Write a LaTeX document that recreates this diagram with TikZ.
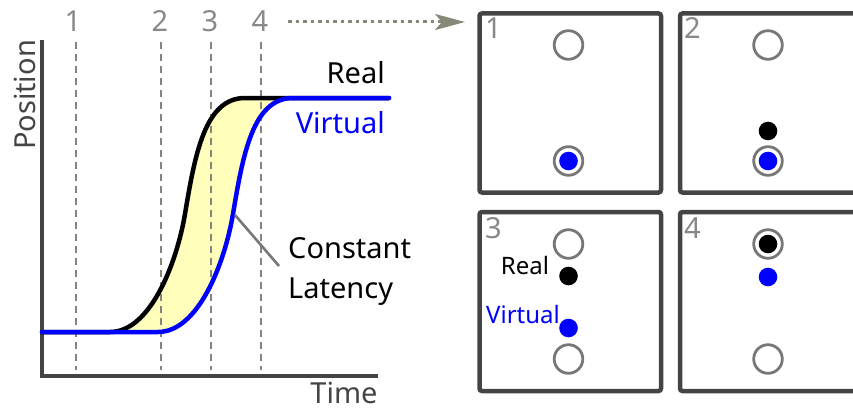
\documentclass[tikz,border=0pt]{standalone}
\usepackage{fontspec}
\setmainfont{Noto Sans}
\usetikzlibrary{arrows.meta,calc}
\definecolor{axisgray}{HTML}{444444}
\definecolor{markgray}{HTML}{888888}
\definecolor{guidegray}{HTML}{85857B}
\definecolor{ringgray}{HTML}{777777}
\definecolor{arrowgray}{HTML}{888878}
\definecolor{latfill}{HTML}{FFFFBB}
\definecolor{virtblue}{HTML}{0000FF}
\begin{document}
\begin{tikzpicture}[x=1pt,y=-1pt,
  bigtext/.style={font=\fontsize{29}{29}\selectfont, inner sep=0pt},
  smalltext/.style={font=\fontsize{24}{24}\selectfont, inner sep=0pt},
  guide/.style={guidegray, line width=2.8pt, dash pattern=on 7pt off 5pt},
  axis/.style={axisgray, line width=4.5pt},
  curve/.style={line width=4.5pt, line cap=round},
  panel/.style={draw=axisgray, line width=4.5pt, rounded corners=2.5pt,
    minimum width=181.5pt, minimum height=179pt, inner sep=0pt},
  ring/.style={circle, draw=ringgray, line width=2.8pt, minimum size=28.6pt, inner sep=0pt},
  dot/.style={circle, minimum size=18.6pt, inner sep=0pt},
  tick/.style={bigtext, markgray, anchor=base},
  panelnum/.style={bigtext, markgray, anchor=base west},
]
\useasboundingbox (0,0) rectangle (853,412);
\clip (0,0) rectangle (853,412);

% ---------- time/position plot ----------
% area between the two curves
\fill[latfill] (110,332) .. controls (150,332) and (176.5,264) .. (185,214)
  .. controls (195,154) and (205,98) .. (245,98) -- (293,98)
  .. controls (253,98) and (243,154) .. (233,214)
  .. controls (224.5,264) and (198,332) .. (158,332) -- cycle;

% moment markers
\node[tick] (t1) at (73,32) {1};
\node[tick] (t2) at (160,32) {2};
\node[tick] (t3) at (210,32) {3};
\node[tick] (t4) at (260,32) {4};
\coordinate (b1) at (76,370);
\coordinate (b2) at (161,370);
\coordinate (b3) at (211,370);
\coordinate (b4) at (261,370);
\foreach \i in {1,...,4}
  \draw[guide] (b\i |- 0,42) -- (b\i);

% axes
\coordinate (ytop) at (42,40);
\coordinate (origin) at (42,376);
\coordinate (xend) at (378,376);
\draw[axis] (ytop) -- (origin) -- (xend);
\node[bigtext, axisgray, rotate=90, anchor=base] (ylab) at (35,95) {Position};
\node[bigtext, axisgray, anchor=base] (xlab) at (344,403) {Time};

% real and virtual trajectories
\draw[curve, black] (42,332) -- (110,332) .. controls (150,332) and (176.5,264) .. (185,214)
  .. controls (195,154) and (205,98) .. (245,98) -- (389,98);
\draw[curve, virtblue] (42,332) -- (158,332) .. controls (198,332) and (224.5,264) .. (233,214)
  .. controls (243,154) and (253,98) .. (293,98) -- (389,98);

\node[bigtext, black, anchor=base east] (real) at (385,83) {Real};
\node[bigtext, virtblue, anchor=base east] (virtual) at (385,133) {Virtual};

% latency callout
\coordinate (latpt) at (235,215);
\coordinate (latend) at (279,266);
\draw[ringgray, line width=2.6pt] (latpt) -- (latend);
\node[bigtext, black, anchor=base west] (constant) at (288,258) {Constant};
\node[bigtext, black, anchor=base west] (latency) at (288,298) {Latency};

% ---------- snapshot panels ----------
\node[panel] (panel1) at (570.25,103) {};
\node[panel] (panel2) at (770.75,103) {};
\node[panel] (panel3) at (570.25,301.5) {};
\node[panel] (panel4) at (770.75,301.5) {};

% link from the markers to the panels
\coordinate (linkstart) at (288,22);
\coordinate (linkend) at (465,22);
\draw[arrowgray, line width=3pt, dash pattern=on 3.5pt off 4pt,
  -{Stealth[length=30pt, width=16pt, inset=7pt]}] (linkstart) -- (linkend);

\node[panelnum] (n1) at (485,38) {1};
\node[panelnum] (n2) at (684,38) {2};
\node[panelnum] (n3) at (485,238) {3};
\node[panelnum] (n4) at (684,238) {4};

% panel 1: both at rest on the lower target
\node[ring] (r1a) at (568.5,45) {};
\node[ring] (r1b) at (568.5,161) {};
\node[dot, fill=virtblue] (v1) at (568.5,161) {};

% panel 2: real starts moving
\node[ring] (r2a) at (768,45) {};
\node[ring] (r2b) at (768,161) {};
\node[dot, fill=black] (k2) at (768,131) {};
\node[dot, fill=virtblue] (v2) at (768,161) {};

% panel 3: both moving, virtual lagging
\node[ring] (r3a) at (568.5,244) {};
\node[ring] (r3b) at (568.5,359) {};
\node[dot, fill=black] (k3) at (568.5,276) {};
\node[dot, fill=virtblue] (v3) at (568.5,328) {};
\node[smalltext, black, anchor=base] (real3) at (525,274) {Real};
\node[smalltext, virtblue, anchor=base] (virt3) at (523,323) {Virtual};

% panel 4: real arrived, virtual still on the way
\node[ring] (r4a) at (768,244) {};
\node[ring] (r4b) at (768,359) {};
\node[dot, fill=black] (k4) at (768,244) {};
\node[dot, fill=virtblue] (v4) at (768,277) {};
\end{tikzpicture}
\end{document}
